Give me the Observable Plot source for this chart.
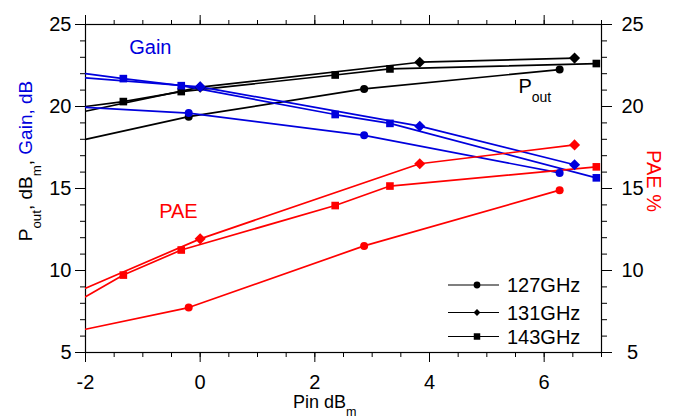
<!DOCTYPE html>
<html>
<head>
<meta charset="utf-8">
<script src="https://cdn.jsdelivr.net/npm/d3@7"></script>
<script src="https://cdn.jsdelivr.net/npm/@observablehq/plot@0.6"></script>
<style>
  html, body { margin: 0; padding: 0; background: #ffffff; }
  #chart { width: 692px; height: 419px; }
</style>
</head>
<body>
<div id="chart"></div>
<script>
// ---- data ----
const frequencies = ["127GHz", "131GHz", "143GHz"];
const symbols = ["circle", "diamond2", "square"];

// Pin (dBm) sample points per frequency; the first point (-2) is the line start at the axis edge (no marker)
const pin127 = [-2, -0.2, 2.86, 6.27];
const pout127 = [18.0, 19.38, 21.07, 22.25];
const gain127 = [19.95, 19.6, 18.24, 15.95];
const pae127 = [6.42, 7.74, 11.5, 14.9];

const pin131 = [-2, 0.0, 3.83, 6.53];
const pout131 = [19.71, 21.18, 22.7, 22.95];
const gain131 = [21.75, 21.2, 18.8, 16.45];
const pae131 = [8.92, 11.93, 16.51, 17.66];

const pin143 = [-2, -1.34, -0.33, 2.355, 3.31, 6.91];
const pout143 = [20.0, 20.3, 20.91, 21.92, 22.29, 22.62];
const gain143 = [22.0, 21.7, 21.27, 19.51, 18.97, 15.65];
const pae143 = [8.4, 9.72, 11.25, 13.96, 15.15, 16.32];

const xMajorTicks = [-2, 0, 2, 4, 6];
const yMajorTicks = [5, 10, 15, 20, 25];

const metricColors = {Pout: "#000000", Gain: "#0000dd", PAE: "#ff0000"};
const markerRadius = {"127GHz": 4, "131GHz": 5, "143GHz": 4.3};

// ---- tidy rows ----
const series = [
  {freq: "127GHz", pin: pin127, Pout: pout127, Gain: gain127, PAE: pae127},
  {freq: "131GHz", pin: pin131, Pout: pout131, Gain: gain131, PAE: pae131},
  {freq: "143GHz", pin: pin143, Pout: pout143, Gain: gain143, PAE: pae143}
];
const rows = [];
for (const s of series) {
  for (const metric of ["Pout", "Gain", "PAE"]) {
    s.pin.forEach((p, i) => rows.push({freq: s.freq, metric, pin: p, value: s[metric][i], marker: i > 0}));
  }
}

const font = "'Liberation Sans', Arial, Helvetica, sans-serif";
const fmt = d => String(d);

const marks = [];
for (const metric of ["Pout", "Gain", "PAE"]) {
  const data = rows.filter(d => d.metric === metric);
  marks.push(Plot.line(data, {x: "pin", y: "value", z: "freq", stroke: metricColors[metric], strokeWidth: 1.7, clip: true}));
}
for (const metric of ["Pout", "Gain", "PAE"]) {
  const data = rows.filter(d => d.metric === metric && d.marker);
  marks.push(Plot.dot(data, {x: "pin", y: "value", symbol: "freq", fill: metricColors[metric], stroke: "none", r: d => markerRadius[d.freq]}));
}

const plot = Plot.plot({
  width: 692,
  height: 419,
  marginLeft: 85,
  marginRight: 91,
  marginTop: 24,
  marginBottom: 67,
  style: {background: "#ffffff", fontFamily: font, color: "#000"},
  x: {domain: [-2, 7], label: null},
  y: {domain: [5, 25], label: null},
  r: {type: "identity"},
  symbol: {domain: frequencies, range: symbols},
  marks: [
    // minor ticks
    Plot.axisX({anchor: "bottom", ticks: d3.range(-2, 7.01, 0.5), tickSize: 5, tickFormat: () => "", label: null}),
    Plot.axisX({anchor: "top", ticks: d3.range(-2, 7.01, 0.5), tickSize: 5, tickFormat: () => "", label: null}),
    Plot.axisY({anchor: "left", ticks: d3.range(5, 25.01, 1), tickSize: 5, tickFormat: () => "", label: null}),
    Plot.axisY({anchor: "right", ticks: d3.range(5, 25.01, 1), tickSize: 5, tickFormat: () => "", label: null}),
    // major ticks
    Plot.axisX({anchor: "bottom", ticks: xMajorTicks, tickSize: 10, tickPadding: 12, fontSize: 20, tickFormat: fmt, label: null}),
    Plot.axisX({anchor: "top", ticks: xMajorTicks, tickSize: 10, tickFormat: () => "", label: null}),
    Plot.axisY({anchor: "left", ticks: yMajorTicks, tickSize: 10, tickPadding: 4, fontSize: 20, tickFormat: fmt, label: null}),
    Plot.axisY({anchor: "right", ticks: yMajorTicks, tickSize: 10, tickPadding: 21, fontSize: 20, textAnchor: "middle", tickFormat: fmt, label: null}),
    Plot.frame({stroke: "#000", strokeWidth: 1.2}),
    ...marks
  ]
});
document.getElementById("chart").appendChild(plot);

// ---- titles, annotations and legend ----
const svg = d3.select(plot);
const X = v => plot.scale("x").apply(v);
const Y = v => plot.scale("y").apply(v);

function richText(g, parts, size, shift) {
  for (const p of parts) {
    const t = g.append("tspan").text(p.text).attr("fill", p.color || "#000");
    if (p.sub) t.attr("font-size", size * 0.7).attr("dy", shift);
    if (p.after) t.attr("dy", -shift);
  }
}

// left y title
const yt = svg.append("text")
  .attr("transform", "translate(32,161) rotate(-90)")
  .attr("text-anchor", "middle").attr("font-family", font).attr("font-size", 19);
richText(yt, [
  {text: "P"}, {text: "out", sub: true}, {text: ", dB", after: true},
  {text: "m", sub: true}, {text: ", ", after: true}, {text: "Gain, dB", color: metricColors.Gain}
], 19, 9);

// right y title
svg.append("text")
  .attr("transform", "translate(647,181) rotate(90)")
  .attr("text-anchor", "middle").attr("font-family", font).attr("font-size", 20)
  .attr("fill", metricColors.PAE).text("PAE %");

// x title
const xt = svg.append("text").attr("x", 293).attr("y", 408).attr("text-anchor", "start")
  .attr("font-family", font).attr("font-size", 18);
richText(xt, [{text: "Pin dB"}, {text: "m", sub: true}], 18, 8);

// in-plot annotations
const annotations = [
  {text: "Gain", x: -0.86, y: 23.17, color: metricColors.Gain},
  {text: "PAE", x: -0.37, y: 13.17, color: metricColors.PAE}
];
for (const a of annotations) {
  svg.append("text").attr("x", X(a.x)).attr("y", Y(a.y)).attr("text-anchor", "middle")
    .attr("font-family", font).attr("font-size", 20).attr("fill", a.color).text(a.text);
}
const po = svg.append("text").attr("x", X(5.56)).attr("y", Y(20.79)).attr("text-anchor", "start")
  .attr("font-family", font).attr("font-size", 20);
po.append("tspan").text("P");
po.append("tspan").text("out").attr("font-size", 14).attr("dy", 9);

// legend
const legendY = [285, 312.5, 336.5];
const legendSym = [d3.symbolCircle, d3.symbolDiamond2, d3.symbolSquare];
const legendSize = [36, 30, 42];
const lg = svg.append("g");
frequencies.forEach((f, i) => {
  const yy = legendY[i];
  lg.append("line").attr("x1", 448).attr("x2", 499).attr("y1", yy).attr("y2", yy)
    .attr("stroke", "#000").attr("stroke-width", 1.2);
  lg.append("path").attr("d", d3.symbol(legendSym[i], legendSize[i])())
    .attr("transform", `translate(477,${yy})`).attr("fill", "#000");
  lg.append("text").attr("x", 507).attr("y", yy).attr("dy", "0.36em").attr("text-anchor", "start")
    .attr("font-family", font).attr("font-size", 20).text(f);
});
</script>
</body>
</html>
